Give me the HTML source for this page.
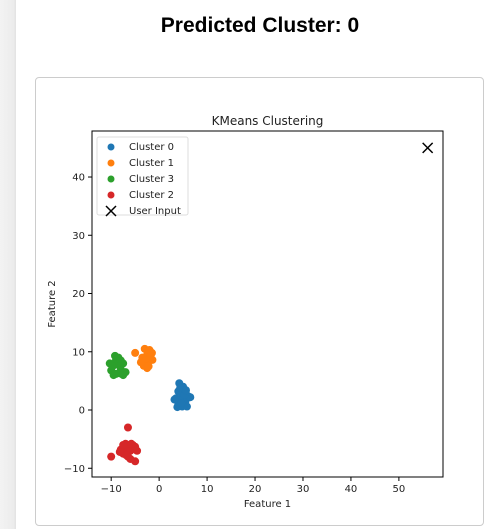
<!DOCTYPE html>
<html><head><meta charset="utf-8"><style>
body{margin:0;width:498px;height:529px;background:#fff;font-family:"Liberation Sans","DejaVu Sans",sans-serif;position:relative;overflow:hidden}
#strip{position:absolute;left:0;top:0;width:16px;height:529px;background:linear-gradient(to right,#f3f3f3,#ececec 85%,#e2e2e2)}
h1{position:absolute;top:14px;left:0;width:520px;text-align:center;margin:0;font-size:21px;font-weight:bold;color:#000}
#card{position:absolute;left:35px;top:77px;width:449px;height:449px;border:1px solid #ccc;border-radius:4px;box-sizing:border-box}
svg{position:absolute;left:0;top:0}
text{font-family:"DejaVu Sans","Liberation Sans",sans-serif;fill:#222}
</style></head><body>
<div id="strip"></div>
<h1>Predicted Cluster: 0</h1>
<div id="card"></div>
<svg id="chart" width="498" height="529"></svg>
<script>
const cluster0=[[4,1],[4.5,2],[5,3],[4.2,4.6],[5.5,1.5],[6,2.4],[3.5,2],[4.8,0.6],[5.8,0.6],[4,3.2],[6.5,2.2],[3.8,0.5],[5,4],[4.6,1.2],[5.3,2.6],[3.2,1.8],[4.4,3.8],[5.6,3.4]];
const cluster1=[[-3,10.5],[-2.5,9.5],[-2,8.5],[-3,8],[-1.5,9.8],[-2.5,7.2],[-3.5,9],[-5,9.8],[-2,10.3],[-3.2,7.6],[-1.4,8.6],[-2.8,8.9],[-3.8,8.2],[-2.2,7.5],[-1.8,9.2]];
const cluster3=[[-10,6.8],[-9,8.5],[-8.5,9],[-8,7],[-9.5,6],[-7,6.5],[-8.7,7.8],[-9.7,7.5],[-7.5,8],[-9,6.2],[-8,8.5],[-10.3,8],[-7.5,6],[-8.2,6.3],[-9.2,9.3]];
const cluster2=[[-6.5,-3],[-10,-8],[-7,-6.5],[-6,-7],[-7.5,-7.5],[-5,-8.8],[-5.5,-6],[-6.5,-8],[-8,-6.8],[-7,-5.8],[-5,-6.3],[-6,-8.4],[-7.5,-6],[-8.2,-7.2],[-5.8,-5.8],[-6.8,-7.8],[-4.6,-7]];
const userInput=[56,45];
const xTicks=[-10,0,10,20,30,40,50];
const yTicks=[-10,0,10,20,30,40];
const legendLabels=["Cluster 0","Cluster 1","Cluster 3","Cluster 2","User Input"];
const colors=["#1f77b4","#ff7f0e","#2ca02c","#d62728"];
const L=92,R=443,T=131,B=477,xmin=-14,xmax=59.2,ymin=-11.5,ymax=47.9;
const X=v=>L+(v-xmin)/(xmax-xmin)*(R-L);
const Y=v=>B-(v-ymin)/(ymax-ymin)*(B-T);
const svg=document.getElementById('chart');const NS='http://www.w3.org/2000/svg';
function mk(t,a,txt){const e=document.createElementNS(NS,t);for(const k in a)e.setAttribute(k,a[k]);if(txt!==undefined)e.textContent=txt;svg.appendChild(e);return e;}
let e=mk('text',{x:(L+R)/2,y:125,'text-anchor':'middle','font-size':12},'KMeans Clustering');


[cluster0,cluster1,cluster3,cluster2].forEach((pts,i)=>{pts.forEach(p=>{
 const c=mk('circle',{cx:X(p[0]),cy:Y(p[1]),r:4,fill:colors[i]});
 
 });});
const ux=X(userInput[0]),uy=Y(userInput[1]);
e=mk('path',{d:`M${ux-5} ${uy-5}L${ux+5} ${uy+5}M${ux+5} ${uy-5}L${ux-5} ${uy+5}`,stroke:'#000','stroke-width':1.5});


e=mk('rect',{x:L,y:T,width:R-L,height:B-T,fill:'none',stroke:'#000','stroke-width':1});


xTicks.forEach(t=>{mk('line',{x1:X(t),x2:X(t),y1:B,y2:B+4,stroke:'#000'});
 e=mk('text',{x:X(t),y:B+15,'text-anchor':'middle','font-size':10},t<0?'\u2212'+(-t):t);
 
 });
yTicks.forEach(t=>{mk('line',{x1:L-4,x2:L,y1:Y(t),y2:Y(t),stroke:'#000'});
 e=mk('text',{x:L-7,y:Y(t)+3.5,'text-anchor':'end','font-size':10},t<0?'\u2212'+(-t):t);
 
 });
e=mk('text',{x:(L+R)/2,y:507,'text-anchor':'middle','font-size':10},'Feature 1');


e=mk('text',{x:0,y:0,'text-anchor':'middle','font-size':10,transform:`translate(55 ${(T+B)/2}) rotate(-90)`},'Feature 2');


e=mk('rect',{x:97,y:137,width:91,height:78,fill:'#fff',stroke:'#ddd',rx:2});


legendLabels.forEach((lb,i)=>{const y=145+i*16;
 if(i<4){e=mk('circle',{cx:111,cy:y+2,r:3.5,fill:colors[i]});}
 else{e=mk('path',{d:`M106 ${y-3}L116 ${y+7}M116 ${y-3}L106 ${y+7}`,stroke:'#000','stroke-width':1.5});}
 
 
 e=mk('text',{x:129,y:y+5,'font-size':10},lb);
 
 });
</script>
</body></html>
